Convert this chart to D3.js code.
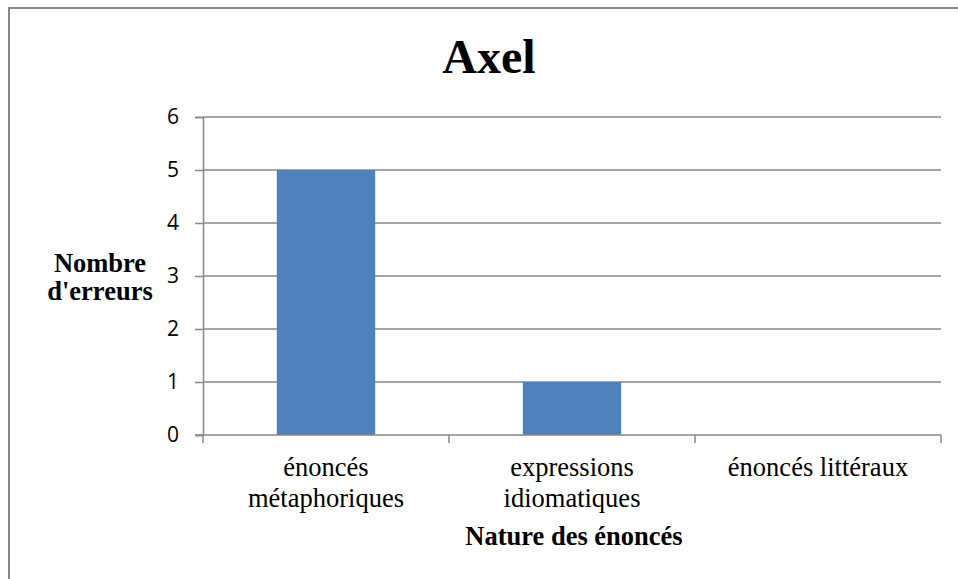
<!DOCTYPE html>
<html>
<head>
<meta charset="utf-8">
<script src="https://cdn.jsdelivr.net/npm/d3@7"></script>
<style>
  html, body { margin: 0; padding: 0; background: #fff; }
  svg { display: block; }
</style>
</head>
<body>
<svg id="chart" width="958" height="579"></svg>
<script>
const categories = [["énoncés", "métaphoriques"], ["expressions", "idiomatiques"], ["énoncés littéraux"]];
const categoryKeys = ["énoncés métaphoriques", "expressions idiomatiques", "énoncés littéraux"];
const values = [5, 1, 0];
const yTicks = [0, 1, 2, 3, 4, 5, 6];
const title = "Axel";
const yTitle = ["Nombre", "d'erreurs"];
const xTitle = "Nature des énoncés";

const svg = d3.select("#chart");
const plot = { left: 203, right: 941, top: 117, bottom: 435 };
const grid = "#878787";

// outer chart border (extends beyond viewport on right/bottom)
svg.append("rect")
  .attr("x", 9).attr("y", 8).attr("width", 980).attr("height", 600)
  .attr("fill", "#fff").attr("stroke", grid).attr("stroke-width", 2);

const x = d3.scaleBand().domain(categoryKeys).range([plot.left, plot.right]).paddingInner(0).paddingOuter(0);
const xBar = d3.scaleBand().domain(categoryKeys).range([plot.left, plot.right]).paddingInner(0.6).paddingOuter(0.3);
const y = d3.scaleLinear().domain([0, 6]).range([plot.bottom, plot.top]);

// gridlines
svg.append("g").selectAll("line").data(yTicks.filter(d => d > 0)).join("line")
  .attr("x1", plot.left).attr("x2", plot.right)
  .attr("y1", d => y(d)).attr("y2", d => y(d))
  .attr("stroke", grid).attr("stroke-width", 1.5);

// bars
svg.append("g").selectAll("rect").data(values).join("rect")
  .attr("x", (d, i) => xBar(categoryKeys[i]))
  .attr("width", xBar.bandwidth())
  .attr("y", d => y(d))
  .attr("height", d => y(0) - y(d))
  .attr("fill", "#4F81BD");

// y axis
const yAxis = d3.axisLeft(y).tickValues(yTicks).tickSize(8).tickPadding(16).tickFormat(d3.format("d"));
const gy = svg.append("g").attr("transform", `translate(${plot.left},0)`).call(yAxis);
gy.attr("font-size", null).attr("font-family", null);
gy.select(".domain").attr("stroke", grid).attr("stroke-width", 1.5);
gy.selectAll(".tick line").attr("stroke", grid).attr("stroke-width", 1.5);
gy.selectAll(".tick text")
  .style("font-family", "'Open Sans', sans-serif").style("font-size", "21px").attr("fill", "#000");

// x axis
svg.append("line").attr("x1", plot.left - 8).attr("x2", plot.right)
  .attr("y1", plot.bottom).attr("y2", plot.bottom)
  .attr("stroke", grid).attr("stroke-width", 1.5);
const xEdges = categoryKeys.map(k => x(k)).concat([plot.right]);
svg.append("g").selectAll("line").data(xEdges).join("line")
  .attr("x1", d => d).attr("x2", d => d)
  .attr("y1", plot.bottom).attr("y2", plot.bottom + 8)
  .attr("stroke", grid).attr("stroke-width", 1.5);

// category labels
const serif = "'Liberation Serif', 'Times New Roman', serif";
const cl = svg.append("g").selectAll("text").data(categories).join("text")
  .attr("x", (d, i) => x(categoryKeys[i]) + x.bandwidth() / 2)
  .attr("y", 476)
  .attr("text-anchor", "middle")
  .attr("font-family", serif).attr("font-size", 26.5).attr("fill", "#000");
cl.each(function(d) {
  d3.select(this).selectAll("tspan").data(d).join("tspan")
    .attr("x", d3.select(this).attr("x"))
    .attr("dy", (t, j) => j === 0 ? 0 : 31)
    .text(t => t);
});

// title
svg.append("text").attr("x", 489).attr("y", 73).attr("text-anchor", "middle")
  .attr("font-family", serif).attr("font-weight", "bold").attr("font-size", 48)
  .text(title);

// y title
svg.append("text").attr("x", 100).attr("y", 272).attr("text-anchor", "middle")
  .attr("font-family", serif).attr("font-weight", "bold").attr("font-size", 26.5)
  .selectAll("tspan").data(yTitle).join("tspan")
  .attr("x", 100).attr("dy", (t, j) => j === 0 ? 0 : 28).text(t => t);

// x title
svg.append("text").attr("x", 574).attr("y", 545).attr("text-anchor", "middle")
  .attr("font-family", serif).attr("font-weight", "bold").attr("font-size", 26.5)
  .text(xTitle);
</script>
</body>
</html>
